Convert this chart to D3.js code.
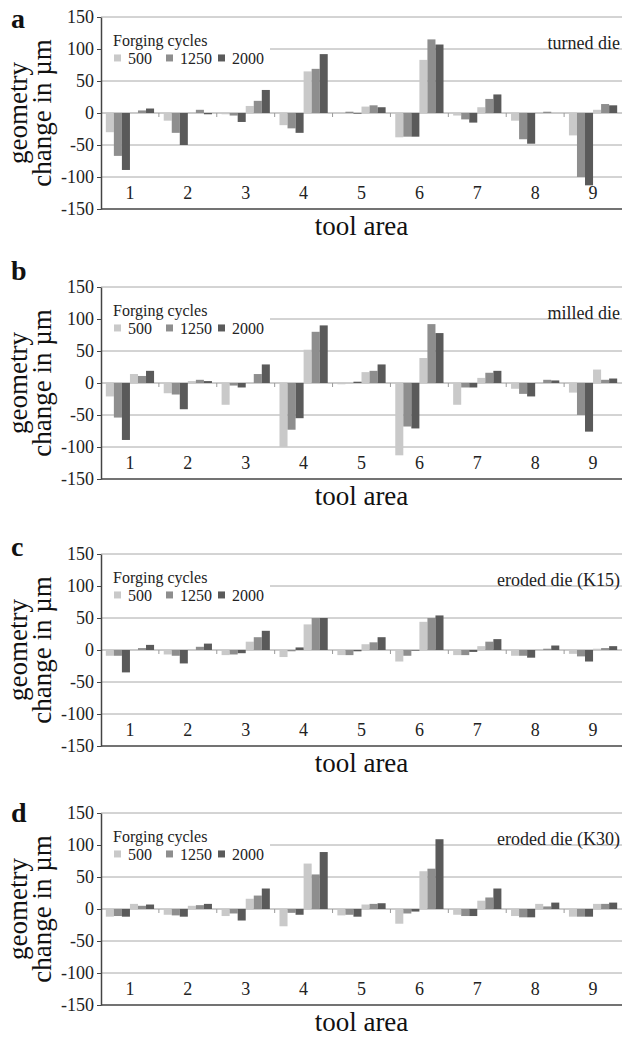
<!DOCTYPE html>
<html>
<head>
<meta charset="utf-8">
<script src="https://cdn.jsdelivr.net/npm/d3@7"></script>
<style>
  body { margin: 0; background: #fff; }
  svg { display: block; font-family: "Liberation Serif", "Times New Roman", serif; }
  svg text { font-family: "Liberation Serif", "Times New Roman", serif; }
</style>
</head>
<body>
<div id="chart"></div>
<script>
// categories
const toolAreas = ['1', '2', '3', '4', '5', '6', '7', '8', '9'];
const cycles = ['500', '1250', '2000'];
const yTicks = [150, 100, 50, 0, -50, -100, -150];

// each array: two bars per tool area (first group, second group), areas 1..9
const turned500  = [-30, 1, -12, 1, -2, 11, -19, 65, 0, 10, -38, 83, -4, 9, -12, 0, -35, 5];
const turned1250 = [-67, 4, -31, 5, -4, 19, -24, 69, 2, 12, -37, 115, -10, 22, -41, 2, -100, 14];
const turned2000 = [-89, 7, -50, -2, -14, 36, -31, 92, -1, 9, -37, 107, -15, 29, -48, 0, -113, 12];

const milled500  = [-21, 14, -16, 3, -34, 0, -100, 52, -2, 17, -113, 39, -34, 8, -9, 1, -15, 21];
const milled1250 = [-54, 11, -18, 5, -4, 14, -73, 80, 0, 19, -68, 92, -7, 16, -17, 5, -50, 5];
const milled2000 = [-89, 19, -41, 3, -7, 29, -55, 90, 2, 29, -71, 78, -7, 19, -21, 4, -76, 7];

const k15_500  = [-9, 1, -7, 1, -8, 13, -11, 40, -8, 9, -18, 44, -8, 6, -9, 1, -6, 2];
const k15_1250 = [-9, 3, -9, 5, -7, 20, -2, 50, -8, 12, -9, 50, -8, 13, -9, 2, -10, 3];
const k15_2000 = [-35, 8, -21, 10, -5, 30, 4, 50, -2, 20, -1, 54, -3, 17, -12, 7, -18, 6];

const k30_500  = [-12, 8, -9, 5, -11, 16, -27, 71, -10, 7, -23, 59, -9, 13, -11, 8, -12, 8];
const k30_1250 = [-11, 5, -10, 6, -7, 21, -6, 54, -9, 8, -7, 63, -11, 18, -13, 4, -12, 8];
const k30_2000 = [-12, 7, -12, 8, -18, 32, -9, 89, -12, 9, -4, 109, -11, 32, -13, 10, -12, 10];

const panelLetters = ['a', 'b', 'c', 'd'];
const panelTitles = ['turned die', 'milled die', 'eroded die (K15)', 'eroded die (K30)'];

const colors = ['#c9c9c9', '#8e8e8e', '#5a5a5a'];

const W = 625, H = 1039;
const left = 101, right = 622;
const serif = '"Liberation Serif", "Times New Roman", serif';

const svg = d3.select('#chart')
    .append('svg')
    .attr('width', W)
    .attr('height', H);

function renderPanel(letter, title, series, top, bottom, letterY) {
    const g = svg.append('g');

    const y = d3.scaleLinear()
        .domain([-150, 150])
        .range([bottom, top]);

    const x = d3.scaleBand()
        .domain(toolAreas)
        .range([left, right]);

    const xs = d3.scaleBand()
        .domain(d3.range(6))
        .range([0, x.bandwidth()])
        .paddingOuter(0.6);

    // gridlines
    g.selectAll('.grid')
        .data(yTicks.filter(d => d !== 0 && d !== -150))
        .enter()
        .append('line')
        .attr('x1', left)
        .attr('x2', right)
        .attr('y1', d => y(d))
        .attr('y2', d => y(d))
        .attr('stroke', '#a8a8a8')
        .attr('stroke-width', 1);

    // zero line with small ticks between areas
    g.append('line')
        .attr('x1', left)
        .attr('x2', right)
        .attr('y1', y(0))
        .attr('y2', y(0))
        .attr('stroke', '#9a9a9a')
        .attr('stroke-width', 1);

    g.selectAll('.ztick')
        .data(toolAreas.slice(1))
        .enter()
        .append('line')
        .attr('x1', d => x(d))
        .attr('x2', d => x(d))
        .attr('y1', y(0))
        .attr('y2', y(0) + 4)
        .attr('stroke', '#9a9a9a');

    // bars
    series.forEach((arr, c) => {
        const rows = [];
        toolAreas.forEach((a, i) => {
            rows.push({area: a, slot: c, value: arr[2 * i]});
            rows.push({area: a, slot: 3 + c, value: arr[2 * i + 1]});
        });
        g.selectAll('.bar' + c)
            .data(rows)
            .enter()
            .append('rect')
            .attr('x', d => x(d.area) + xs(d.slot))
            .attr('y', d => y(Math.max(0, d.value)))
            .attr('width', xs.bandwidth())
            .attr('height', d => Math.abs(y(d.value) - y(0)))
            .attr('fill', colors[c]);
    });

    // legend box (hides part of the 100 gridline)
    g.append('rect')
        .attr('x', left + 1)
        .attr('y', y(132))
        .attr('width', 168)
        .attr('height', y(76) - y(132))
        .attr('fill', '#fff');

    g.append('text')
        .attr('x', left + 12)
        .attr('y', y(114))
        .attr('dy', '0.35em')
        .attr('font-size', 16)
        .attr('fill', '#222')
        .text('Forging cycles');

    const legItems = g.selectAll('.leg')
        .data(cycles)
        .enter()
        .append('g')
        .attr('transform', (d, i) => `translate(${left + 13 + i * 52},${y(86)})`);

    legItems.append('rect')
        .attr('x', 0)
        .attr('y', -3.5)
        .attr('width', 7)
        .attr('height', 7)
        .attr('fill', (d, i) => colors[i]);

    legItems.append('text')
        .attr('x', 14)
        .attr('dy', '0.35em')
        .attr('font-size', 16)
        .attr('fill', '#222')
        .text(d => d);

    // panel title
    g.append('text')
        .attr('x', right - 2)
        .attr('y', y(110))
        .attr('dy', '0.35em')
        .attr('text-anchor', 'end')
        .attr('font-size', 18)
        .attr('fill', '#222')
        .text(title);

    // category labels
    g.selectAll('.cat')
        .data(toolAreas)
        .enter()
        .append('text')
        .attr('x', d => x(d) + x.bandwidth() / 2)
        .attr('y', y(-124))
        .attr('dy', '0.35em')
        .attr('text-anchor', 'middle')
        .attr('font-size', 18)
        .attr('fill', '#222')
        .text(d => d);

    // bottom line at -150
    g.append('line')
        .attr('x1', left)
        .attr('x2', right)
        .attr('y1', y(-150))
        .attr('y2', y(-150))
        .attr('stroke', '#444')
        .attr('stroke-width', 1.5);

    // left axis (plain hyphen for negatives, as in the original)
    const yAxis = g.append('g')
        .attr('transform', `translate(${left},0)`)
        .call(d3.axisLeft(y)
            .tickValues(yTicks)
            .tickFormat(d => String(d))
            .tickSize(4)
            .tickSizeOuter(0)
            .tickPadding(3));
    yAxis.attr('font-family', serif);
    yAxis.select('.domain').attr('stroke', '#444').attr('stroke-width', 1.5);
    yAxis.selectAll('.tick line').attr('stroke', '#444');
    yAxis.selectAll('.tick text')
        .attr('font-size', 18)
        .attr('fill', '#222');

    // axis titles
    const midY = (top + bottom) / 2;
    g.append('text')
        .attr('transform', `translate(27,${midY}) rotate(-90)`)
        .attr('text-anchor', 'middle')
        .attr('font-size', 27)
        .attr('fill', '#111')
        .text('geometry');
    g.append('text')
        .attr('transform', `translate(51,${midY}) rotate(-90)`)
        .attr('text-anchor', 'middle')
        .attr('font-size', 27)
        .attr('fill', '#111')
        .text('change in µm');

    g.append('text')
        .attr('x', (left + right) / 2)
        .attr('y', bottom + 26)
        .attr('text-anchor', 'middle')
        .attr('font-size', 27)
        .attr('fill', '#111')
        .text('tool area');

    // panel letter
    g.append('text')
        .attr('x', 11)
        .attr('y', letterY)
        .attr('font-size', 28)
        .attr('font-weight', 'bold')
        .attr('fill', '#111')
        .text(letter);
}

const panelSeries = [
    [turned500, turned1250, turned2000],
    [milled500, milled1250, milled2000],
    [k15_500, k15_1250, k15_2000],
    [k30_500, k30_1250, k30_2000]
];
const panelTops = [17, 287, 554, 813];
const letterBase = [28, 280, 556, 822];
const plotHeight = 192;

panelSeries.forEach((s, i) => {
    renderPanel(panelLetters[i], panelTitles[i], s, panelTops[i], panelTops[i] + plotHeight, letterBase[i]);
});
</script>
</body>
</html>
